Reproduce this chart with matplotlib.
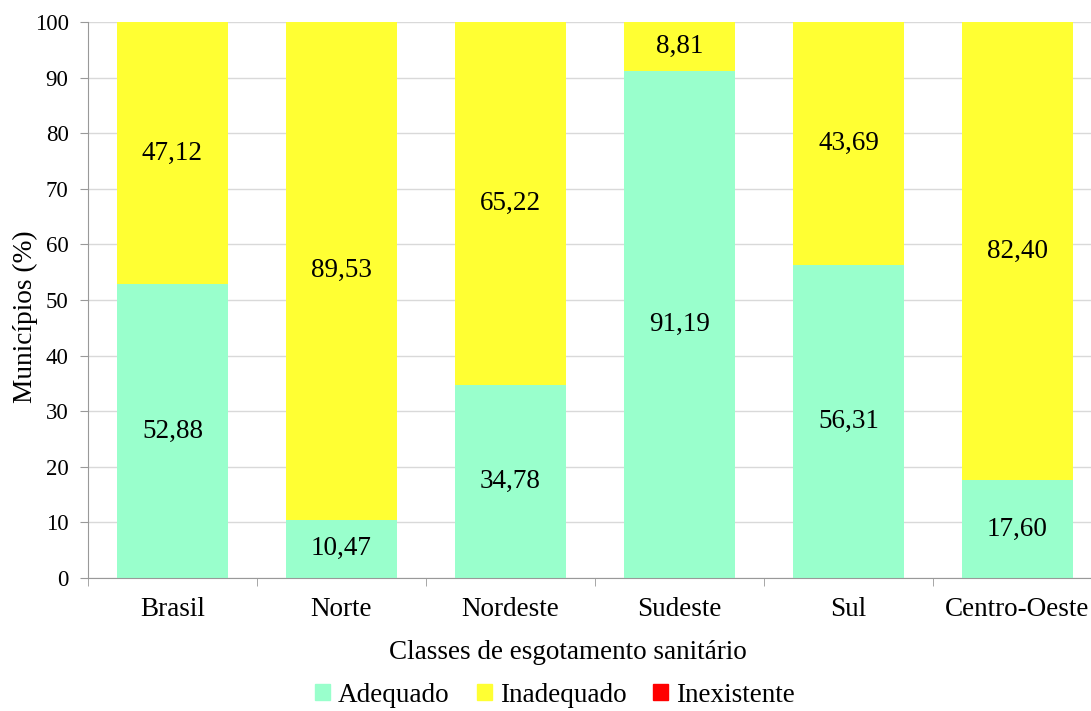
import matplotlib
matplotlib.use("Agg")
import matplotlib.pyplot as plt
import numpy as np

categories = ["Brasil", "Norte", "Nordeste", "Sudeste", "Sul", "Centro-Oeste"]
adequado = [52.88, 10.47, 34.78, 91.19, 56.31, 17.60]
inadequado = [47.12, 89.53, 65.22, 8.81, 43.69, 82.40]
inexistente = [0, 0, 0, 0, 0, 0]
series_names = ["Adequado", "Inadequado", "Inexistente"]
colors = ["#99FFCC", "#FFFF33", "#FF0000"]

plt.rcParams['font.family'] = ['Liberation Serif', 'DejaVu Serif']

W, H = 1091, 711
fig = plt.figure(figsize=(W / 100, H / 100), dpi=100)
left, right, bottom, top = 88, 1102, 578, 22
ax = fig.add_axes([left / W, 1 - bottom / H, (right - left) / W, (bottom - top) / H])

x = np.arange(len(categories))
bw = 0.66
ax.bar(x, adequado, bw, color=colors[0], label=series_names[0], zorder=2)
ax.bar(x, inadequado, bw, bottom=adequado, color=colors[1], label=series_names[1], zorder=2)
ax.bar(x, inexistente, bw, bottom=np.array(adequado) + np.array(inadequado),
       color=colors[2], label=series_names[2], zorder=2)

def fmt(v):
    return f"{v:.2f}".replace(".", ",")

for i in range(len(categories)):
    ax.text(x[i], adequado[i] / 2, fmt(adequado[i]), ha="center", va="center", fontsize=19.5, zorder=3)
    ax.text(x[i], adequado[i] + inadequado[i] / 2, fmt(inadequado[i]), ha="center", va="center",
            fontsize=19.5, zorder=3)

ax.set_xlim(-0.5, len(categories) - 0.5)
ax.set_ylim(0, 100)
ax.set_yticks(np.arange(0, 101, 10))
ax.yaxis.grid(True, color="#D9D9D9", linewidth=1, zorder=0)
ax.set_xticks(x)
ax.set_xticklabels(categories, fontsize=19.5)
ax.set_xticks(np.arange(-0.5, len(categories), 1), minor=True)
ax.tick_params(axis="x", which="major", length=0, pad=14)
ax.tick_params(axis="x", which="minor", length=6, color="#999999")
ax.tick_params(axis="y", length=6, color="#999999", labelsize=16.5, pad=8)
for s in ["top", "right"]:
    ax.spines[s].set_visible(False)
for s in ["left", "bottom"]:
    ax.spines[s].set_color("#999999")

pw, ph = right - left, bottom - top
ax.set_ylabel("Municípios (%)", fontsize=19.7)
ax.yaxis.set_label_coords((38 - left) / pw, (bottom - 317) / ph)
ax.set_xlabel("Classes de esgotamento sanitário", fontsize=19.5)
ax.xaxis.set_label_coords((568 - left) / pw, (bottom - 640) / ph)

handles = [plt.Rectangle((0, 0), 1, 1, color=c) for c in colors]
fig.legend(handles, series_names, loc="center", bbox_to_anchor=(555 / W, 1 - 695 / H), ncol=3,
           frameon=False, fontsize=19.5, handlelength=0.55, handleheight=0.55, handletextpad=0.3,
           columnspacing=1.0)

fig.savefig("out.png", dpi=100)
